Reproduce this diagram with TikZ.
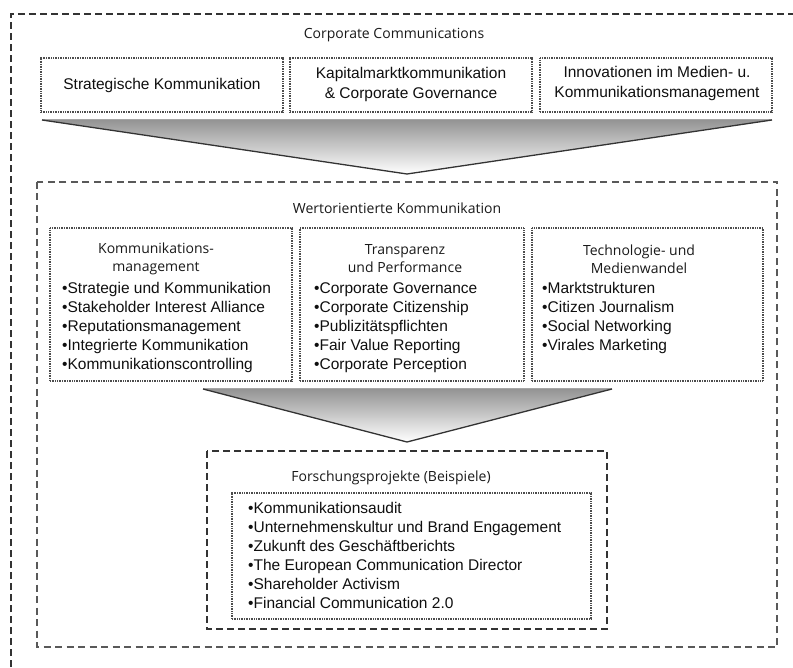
\documentclass[tikz,border=0pt]{standalone}
\usepackage{fontspec}
\setmainfont{Liberation Sans}
\newfontfamily\headfont{Open Sans}
\begin{document}
\begin{tikzpicture}[x=1pt,y=-1pt,
  dashbox/.style={draw=black!80, line width=1.5pt, dash pattern=on 7pt off 4pt},
  middash/.style={draw=black!65, line width=1.3pt, dash pattern=on 7pt off 4.5pt},
  dotbox/.style={draw=black!70, line width=1.2pt, dash pattern=on 0.9pt off 0.8pt, inner sep=0pt},
  body/.style={text=black!94, font=\fontsize{15.5}{19}\selectfont, inner sep=0pt},
  head/.style={text=black!90, font=\headfont\fontsize{14}{18}\selectfont, inner sep=0pt, align=center},
  list/.style={body, align=left, anchor=base west},
  funnelfill/.style={top color=black!42, bottom color=white},
  funnelrim/.style={draw=black!35, line width=1pt},
  funnelside/.style={draw=black!80, line width=1.3pt, line join=miter}]
\useasboundingbox (0,0) rectangle (793,668);
\clip (0,0) rectangle (793,668);

% outer frame (runs past the page on the right and bottom)
\draw[dashbox] (11,700) -- (11,14) -- (800,14);
\node[head] (cc) at (394,35) {Corporate Communications};

% three top fields
\node[dotbox, minimum width=242pt, minimum height=54pt] (s1) at (162,85) {};
\node[dotbox, minimum width=242pt, minimum height=54pt] (s2) at (411,85) {};
\node[dotbox, minimum width=232pt, minimum height=54pt] (s3) at (656,85) {};
\node[body] (t1) at (s1) {Strategische Kommunikation};
\node[body, align=center, font=\fontsize{15.5}{20}\selectfont] (t2) at ([yshift=1pt]s2) {Kapitalmarktkommunikation\\\& Corporate Governance};
\node[body, align=center, font=\fontsize{15.5}{20}\selectfont] (t3) at ([xshift=1pt,yshift=2pt]s3) {Innovationen im Medien- u.\\Kommunikationsmanagement};

% first funnel
\coordinate (f1l) at (42,120);
\coordinate (f1r) at (772,120);
\coordinate (f1t) at (407,174);
\shade[funnelfill] (f1l) -- (f1r) -- (f1t) -- cycle;
\draw[funnelrim] (f1l) -- (f1r);
\draw[funnelside] (f1l) -- (f1t) -- (f1r);

% value-oriented communication
\draw[middash] (37,182) rectangle (777,647);
\node[head] (wk) at (397,208) {Wertorientierte Kommunikation};

\node[dotbox, minimum width=242pt, minimum height=153pt] (ba) at (171,304.5) {};
\node[dotbox, minimum width=224pt, minimum height=153pt] (bb) at (412,304.5) {};
\node[dotbox, minimum width=231pt, minimum height=153pt] (bc) at (647.5,304.5) {};

\node[head] (ha) at (156,259) {Kommunikations-\\management};
\node[head] (hb) at (405,259) {Transparenz\\und Performance};
\node[head] (hc) at (639,259) {Technologie- und\\Medienwandel};

% lists are anchored at the baseline of their last line
\node[list] (la) at (62,369.5) {•Strategie und Kommunikation\\•Stakeholder Interest Alliance\\•Reputationsmanagement\\•Integrierte Kommunikation\\•Kommunikationscontrolling};
\node[list] (lb) at (314,369.5) {•Corporate Governance\\•Corporate Citizenship\\•Publizitätspflichten\\•Fair Value Reporting\\•Corporate Perception};
\node[list] (lc) at (542,350.5) {•Marktstrukturen\\•Citizen Journalism\\•Social Networking\\•Virales Marketing};

% second funnel
\coordinate (f2l) at (203,389);
\coordinate (f2r) at (612,389);
\coordinate (f2t) at (407,442);
\shade[funnelfill] (f2l) -- (f2r) -- (f2t) -- cycle;
\draw[funnelrim] (f2l) -- (f2r);
\draw[funnelside] (f2l) -- (f2t) -- (f2r);

% research projects
\draw[dashbox] (207,451) rectangle (607,629);
\node[head] (fp) at (391,478) {Forschungsprojekte (Beispiele)};
\node[dotbox, minimum width=359pt, minimum height=126pt] (bf) at (411.5,556) {};
\node[list] (lf) at (248,608.5) {•Kommunikationsaudit\\•Unternehmenskultur und Brand Engagement\\•Zukunft des Geschäftberichts\\•The European Communication Director\\•Shareholder Activism\\•Financial Communication 2.0};
\end{tikzpicture}
\end{document}
